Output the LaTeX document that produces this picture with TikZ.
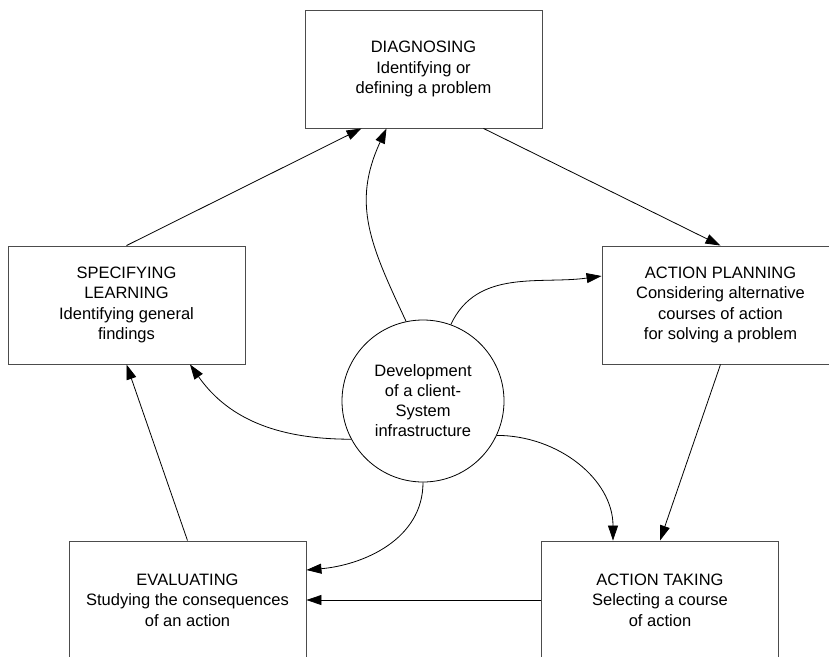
\documentclass[tikz,border=0pt]{standalone}
\usepackage{fontspec}
\setmainfont{Liberation Sans}
\usetikzlibrary{arrows.meta}
\tikzset{
	stage/.style={draw=black!70, line width=0.9pt, fill=white, minimum width=237pt, minimum height=118pt, inner sep=0pt, align=center, font=\fontsize{16.5}{20.5}\selectfont},
	hub/.style={draw, circle, line width=0.8pt, minimum size=162pt, inner sep=0pt, align=center, font=\fontsize{16.5}{20}\selectfont},
	link/.style={line width=0.8pt, -{Triangle[length=15pt,width=10pt]}}
}

\begin{document}
\begin{tikzpicture}[x=1pt, y=1pt]
			%%%%% START %%%%%
			
			\useasboundingbox (0, 0) rectangle (829, -656);
			\clip (0, 0) rectangle (829, -656);
			
			\node[stage] (diag) at (423.5, -69) {DIAGNOSING\\Identifying or\\defining a problem};
			\node[stage] (spec) at (126.5, -305) {SPECIFYING\\LEARNING\\Identifying general\\findings};
			\node[stage] (plan) at (720.5, -305) {ACTION PLANNING\\Considering alternative\\courses of action\\for solving a problem};
			\node[stage] (eval) at (187.5, -600) {EVALUATING\\Studying the consequences\\of an action};
			\node[stage] (take) at (660, -600) {ACTION TAKING\\Selecting a course\\of action};
			
			\node[hub] (circ) at (423, -401) {Development\\of a client-\\System\\infrastructure};
			
			\draw[link] (spec.north) -- ([xshift=-62pt]diag.south);
			\draw[link] ([xshift=60pt]diag.south) -- (plan.north);
			\draw[link] (plan.south) -- (take.north);
			\draw[link] (take.west) -- (eval.east);
			\draw[link] (eval.north) -- (spec.south);
			
			\draw[link] (circ.102) to[out=115, in=-115, looseness=1.1] ([xshift=-37pt]diag.south);
			\draw[link] (circ.70) to[out=65, in=188] ([yshift=29pt]plan.west);
			\draw[link] (circ.-25) to[out=0, in=90] ([xshift=-47pt]take.north);
			\draw[link] (circ.south) to[out=-90, in=5] ([yshift=30pt]eval.east);
			\draw[link] (circ.-152) to[out=180, in=-55] ([xshift=63.5pt]spec.south);
			
			%%%%% END %%%%%
		\end{tikzpicture}
\end{document}
